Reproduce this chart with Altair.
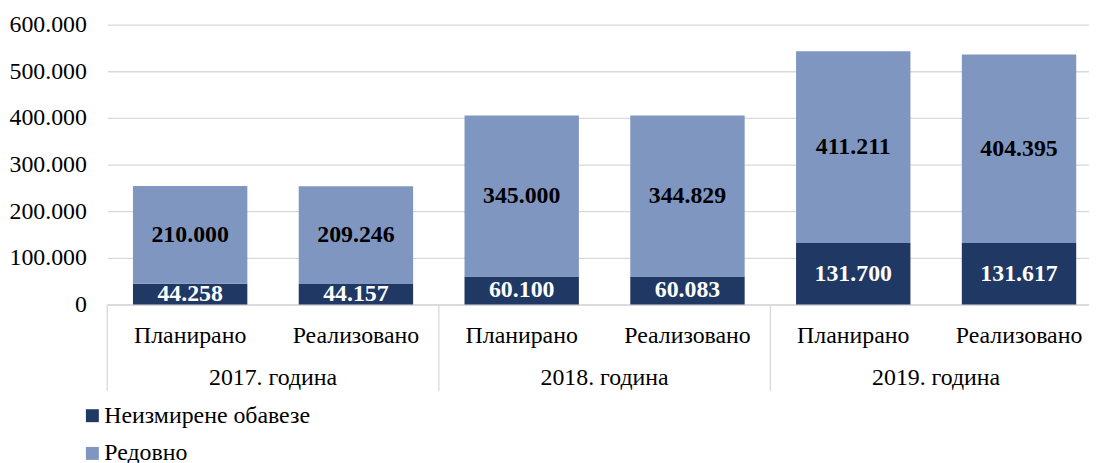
import altair as alt
import pandas as pd

years = ["2017", "2018", "2019"]
year_labels = ["2017. година", "2018. година", "2019. година"]
statuses = ["Планирано", "Реализовано"]
series = ["Неизмирене обавезе", "Редовно"]

# values per year x status (Планирано, Реализовано)
neizmirene = [44258, 44157, 60100, 60083, 131700, 131617]
redovno = [210000, 209246, 345000, 344829, 411211, 404395]

colors = ["#203864", "#7F96C0"]
FONT = "Liberation Serif, Times New Roman, serif"
FS = 24

rows = []
i = 0
for y in years:
    for s in statuses:
        key = f"{y}|{s}"
        rows.append({"key": key, "series": series[0], "ord": 0, "value": neizmirene[i]})
        rows.append({"key": key, "series": series[1], "ord": 1, "value": redovno[i]})
        i += 1
df = pd.DataFrame(rows)
ydf = pd.DataFrame({"year": years, "label": year_labels})

keys = [f"{y}|{s}" for y in years for s in statuses]
xscale = alt.Scale(domain=keys, range=[0, 1002], paddingInner=0.31, paddingOuter=0.155)

base = alt.Chart(df).transform_stack(
    stack="value", groupby=["key"], as_=["v0", "v1"], sort=[alt.SortField("ord")]
).transform_calculate(
    mid="(datum.v0 + datum.v1) / 2",
    lbl="replace(format(datum.value, ','), ',', '.')",
)

x_enc = alt.X(
    "key:N",
    scale=xscale,
    sort=keys,
    axis=alt.Axis(
        title=None,
        labelExpr="split(datum.label, '|')[1]",
        labelFont=FONT,
        labelFontSize=FS,
        labelColor="#000000",
        labelAngle=0,
        labelPadding=19,
        labelLimit=0,
        ticks=False,
        tickSize=0,
        domainColor="#d9d9d9",
        domainWidth=1.3,
    ),
)

bars = base.mark_bar().encode(
    x=x_enc,
    y=alt.Y(
        "v0:Q",
        scale=alt.Scale(domain=[0, 600000]),
        axis=alt.Axis(
            title=None,
            values=[0, 100000, 200000, 300000, 400000, 500000, 600000],
            labelExpr="replace(format(datum.value, ','), ',', '.')",
            labelFont=FONT,
            labelFontSize=FS,
            labelColor="#000000",
            labelPadding=21,
            ticks=False,
            domain=False,
            gridColor="#d9d9d9",
            gridWidth=1.3,
        ),
    ),
    y2="v1:Q",
    color=alt.Color(
        "series:N",
        scale=alt.Scale(domain=series, range=colors),
        legend=alt.Legend(
            title=None,
            orient="none",
            legendX=-27,
            legendY=382,
            direction="vertical",
            symbolType="square",
            symbolSize=170,
            symbolStrokeWidth=0,
            labelFont=FONT,
            labelFontSize=FS,
            labelColor="#000000",
            labelOffset=0,
            labelLimit=0,
            rowPadding=14,
        ),
    ),
)

texts = base.mark_text(font=FONT, fontSize=FS, fontWeight="bold", baseline="middle").encode(
    x=alt.X("key:N", scale=xscale, sort=keys),
    y=alt.Y("mid:Q"),
    text="lbl:N",
    color=alt.condition(alt.datum.ord == 0, alt.value("white"), alt.value("black")),
)

yscale = alt.Scale(domain=years, range=[0, 1002], paddingInner=0, paddingOuter=0)
seps = alt.Chart(ydf).mark_rule(color="#d9d9d9", strokeWidth=1.3).encode(
    x=alt.X("year:N", scale=yscale, axis=None, bandPosition=0),
    y=alt.value(282),
    y2=alt.value(369),
)
ytext = alt.Chart(ydf).mark_text(font=FONT, fontSize=FS, baseline="middle", color="#000000").encode(
    x=alt.X("year:N", scale=yscale, axis=None),
    y=alt.value(356),
    text="label:N",
)

main = alt.layer(bars, texts)
chart = alt.layer(main, seps, ytext).resolve_scale(x="independent").properties(
    width=989,
    height=282,
    autosize=alt.AutoSizeParams(type="none"),
    padding={"left": 100, "top": 15, "right": 0, "bottom": 166},
).configure_view(stroke=None)

chart.save("out.html", embed_options={"renderer": "svg", "actions": False})
